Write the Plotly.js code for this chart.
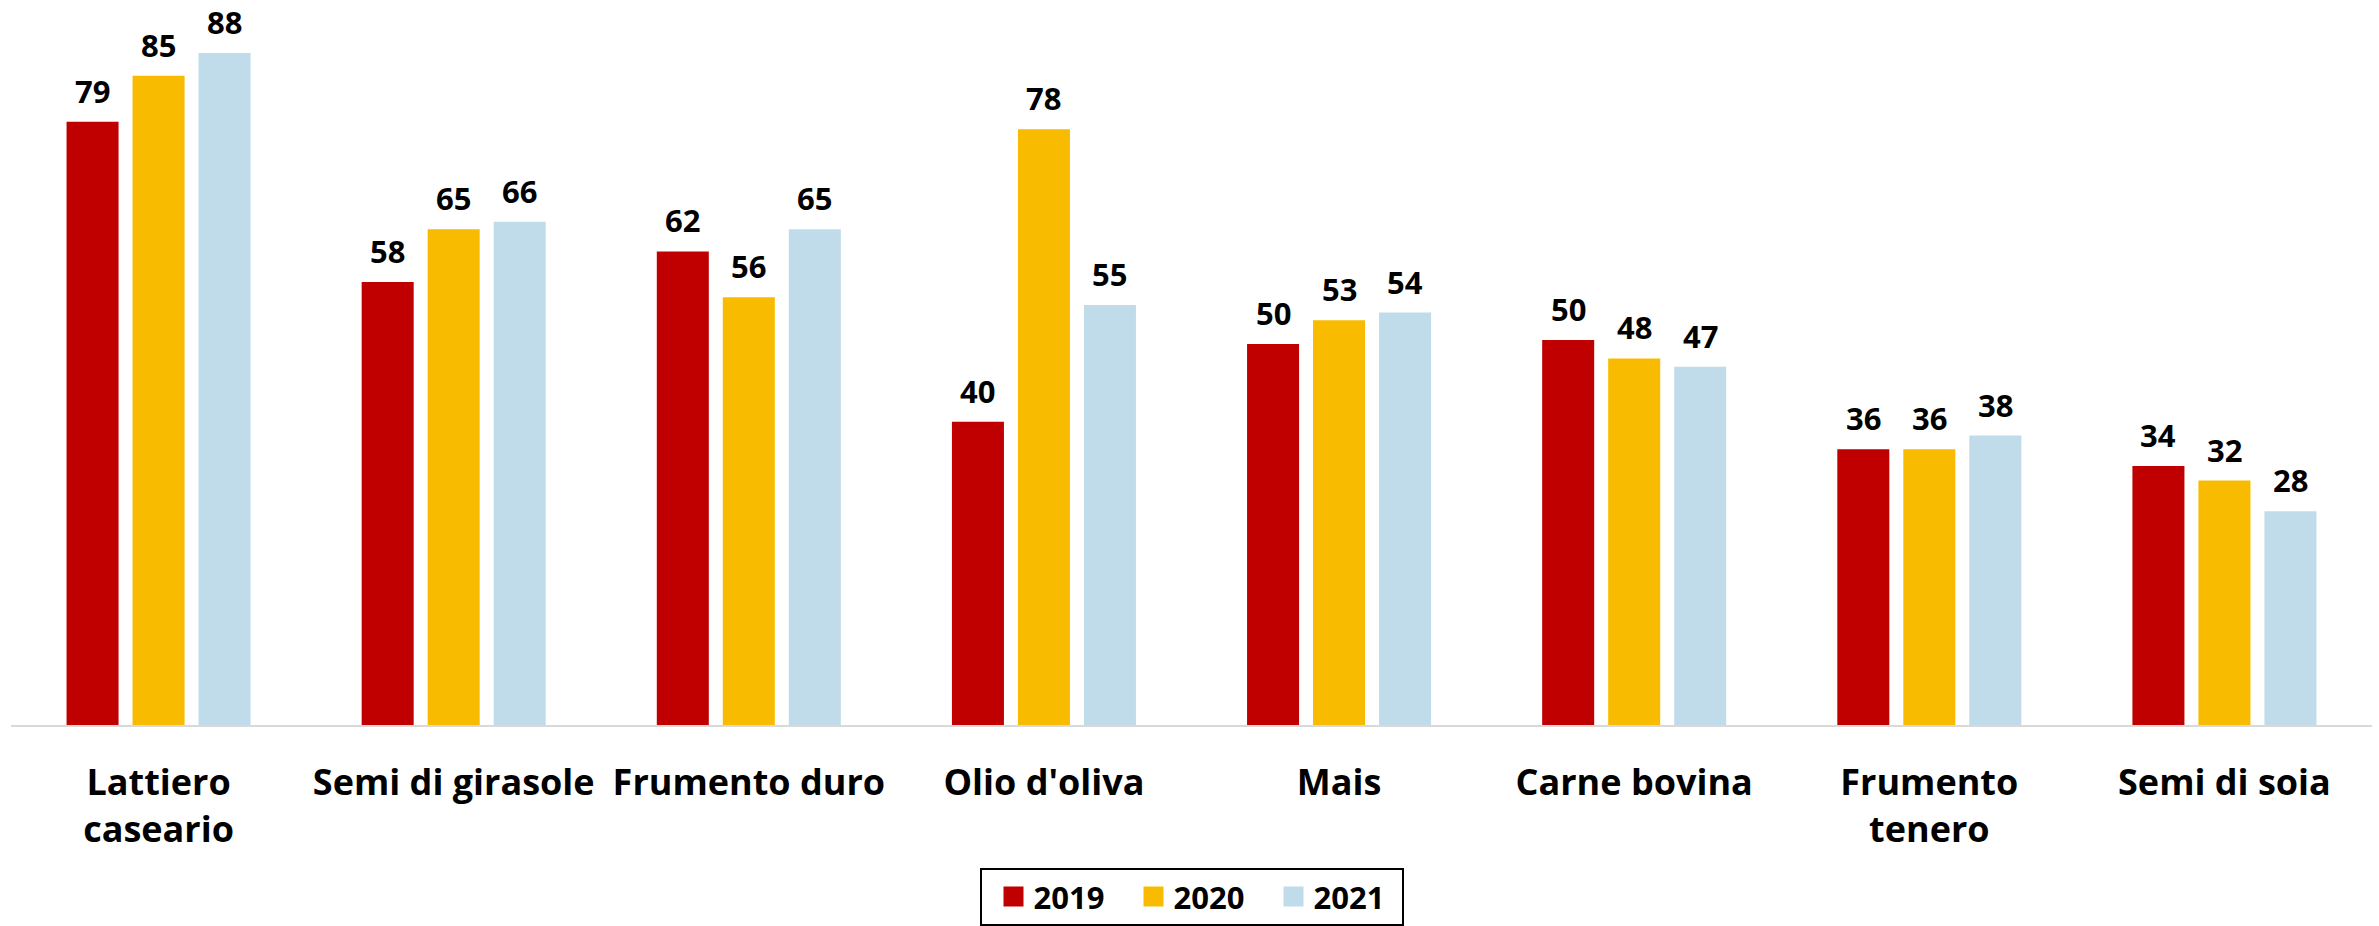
<!DOCTYPE html>
<html>
<head>
<meta charset="utf-8">
<script src="https://cdn.plot.ly/plotly-3.0.1.min.js"></script>
<style>
  html, body { margin: 0; padding: 0; background: #ffffff; }
  #chart { width: 2379px; height: 926px; }
</style>
</head>
<body>
<div id="chart"></div>
<script>
// ---- data ----
const categories = ["Lattiero caseario", "Semi di girasole", "Frumento duro", "Olio d'oliva", "Mais", "Carne bovina", "Frumento tenero", "Semi di soia"];
const tickLabels = ["Lattiero<br>caseario", "Semi di girasole", "Frumento duro", "Olio d'oliva", "Mais", "Carne bovina", "Frumento<br>tenero", "Semi di soia"];
const seriesNames = ["2019", "2020", "2021"];
const values2019 = [79, 58, 62, 39.7, 49.9, 50.4, 36.1, 33.9];
const values2020 = [85, 64.9, 56, 78, 53, 48, 36.1, 32];
const values2021 = [88, 65.9, 64.9, 55, 54, 46.9, 37.9, 28];
const labels2019 = ["79", "58", "62", "40", "50", "50", "36", "34"];
const labels2020 = ["85", "65", "56", "78", "53", "48", "36", "32"];
const labels2021 = ["88", "66", "65", "55", "54", "47", "38", "28"];

// ---- style ----
const colors = ["#C00000", "#F9BB00", "#C0DCEA"];
const FONT = "'Open Sans', Lato, 'DejaVu Sans', sans-serif";
const BARGAP = 0.329;
const BARGROUPGAP = 0.212;

const allValues = [values2019, values2020, values2021];
const allLabels = [labels2019, labels2020, labels2021];

const traces = allValues.map((vals, i) => ({
  type: "bar",
  name: seriesNames[i],
  x: categories,
  y: vals,
  marker: { color: colors[i], line: { width: 0 } },
  hoverinfo: "x+y+name"
}));

// value labels above each bar (positions follow the group layout)
const nSeries = allValues.length;
const slot = (1 - BARGAP) / nSeries;
const annotations = [];
allValues.forEach((vals, i) => {
  vals.forEach((v, j) => {
    annotations.push({
      x: j + (i - (nSeries - 1) / 2) * slot,
      y: v,
      xref: "x",
      yref: "y",
      text: allLabels[i][j],
      showarrow: false,
      xanchor: "center",
      yanchor: "bottom",
      yshift: 8,
      font: { family: FONT, size: 31, color: "#000000", weight: 700 }
    });
  });
});

const layout = {
  width: 2379,
  height: 926,
  margin: { l: 11, r: 7, t: 0, b: 196, pad: 0 },
  paper_bgcolor: "#ffffff",
  plot_bgcolor: "#ffffff",
  barmode: "group",
  bargap: BARGAP,
  bargroupgap: BARGROUPGAP,
  showlegend: true,
  legend: {
    orientation: "h",
    x: 0.5,
    xanchor: "center",
    y: -0.197,
    yanchor: "top",
    bordercolor: "#000000",
    borderwidth: 2,
    bgcolor: "#ffffff",
    entrywidthmode: "pixels",
    entrywidth: 95,
    font: { family: FONT, size: 31, color: "#000000", weight: 700 },
    traceorder: "normal"
  },
  xaxis: {
    type: "category",
    tickmode: "array",
    tickvals: categories,
    ticktext: tickLabels,
    showgrid: false,
    zeroline: false,
    showline: true,
    linecolor: "#D9D9D9",
    linewidth: 2,
    ticks: "",
    ticklabelstandoff: 25,
    tickfont: { family: FONT, size: 36, color: "#000000", weight: 700 },
    fixedrange: true
  },
  yaxis: {
    range: [0, 94.93],
    showgrid: false,
    zeroline: false,
    showline: false,
    showticklabels: false,
    ticks: "",
    fixedrange: true
  },
  annotations: annotations,
  font: { family: FONT, color: "#000000" }
};

Plotly.newPlot("chart", traces, layout, { displayModeBar: false, staticPlot: true }).then(gd => {
  // larger square legend swatches, items nudged right inside the box
  gd.querySelectorAll(".legendpoints path").forEach(p => p.setAttribute("d", "M10,10H-10V-10H10Z"));
  gd.querySelectorAll(".legend .traces").forEach(g => {
    const t = g.getAttribute("transform") || "";
    const m = t.match(/translate\(\s*([-\d.]+)[ ,]+([-\d.]+)\s*\)/);
    if (m) g.setAttribute("transform", "translate(" + (parseFloat(m[1]) + 12) + "," + m[2] + ")");
  });
});
</script>
</body>
</html>
